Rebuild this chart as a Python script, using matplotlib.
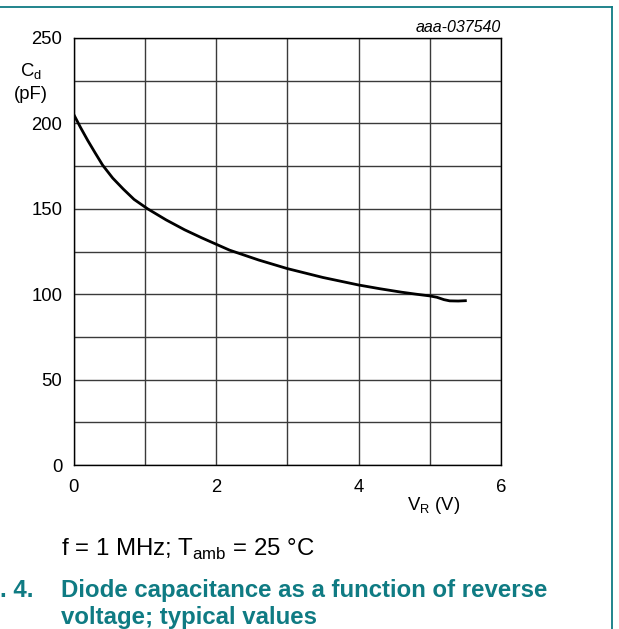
import matplotlib
matplotlib.use("Agg")
import matplotlib.pyplot as plt
from matplotlib.lines import Line2D

plt.rcParams["font.family"] = ["Liberation Sans", "DejaVu Sans"]
plt.rcParams["mathtext.fontset"] = "custom"
plt.rcParams["mathtext.rm"] = "Liberation Sans"

# reverse voltage (V) and diode capacitance (pF)
v_r = [0, 0.1, 0.2, 0.3, 0.41, 0.55, 0.7, 0.85, 1.04, 1.3, 1.56, 1.8, 2.0,
       2.19, 2.6, 3.0, 3.5, 4.0, 4.3, 4.6, 4.81, 5.0, 5.1, 5.2, 5.28, 5.4,
       5.5]
c_d = [205.5, 197.5, 190, 183, 175.5, 168, 161.5, 155.5, 150, 143.5, 137.7,
       133, 129.3, 125.8, 120, 115, 109.8, 105.4, 103.2, 101.2, 100, 99,
       98.2, 96.8, 96.1, 96.0, 96.2]

x_ticks = [0, 2, 4, 6]
y_ticks = [0, 50, 100, 150, 200, 250]
teal = "#0f7b83"
W, H = 619, 629

fig = plt.figure(figsize=(W / 100, H / 100), dpi=100)
ax = fig.add_axes([73.5 / W, 1 - 465 / H, 427.5 / W, 427 / H])

ax.plot(v_r, c_d, color="black", lw=2.0, solid_joinstyle="round")
ax.set_xlim(0, 6)
ax.set_ylim(0, 250)
ax.set_xticks(x_ticks)
ax.set_xticks(range(0, 7), minor=True)
ax.set_yticks(y_ticks)
ax.set_yticks(range(0, 251, 25), minor=True)
ax.grid(True, which="both", color="#3a3a3a", lw=1.0)
ax.tick_params(which="both", length=0, labelsize=13.3, colors="black")
ax.tick_params(axis="y", pad=8)
ax.tick_params(axis="x", pad=10)
for s in ax.spines.values():
    s.set_linewidth(1.0)
    s.set_color("black")

def px(x, y):
    return x / W, 1 - y / H

fig.text(*px(31, 76), r"C$_\mathregular{d}$", ha="center", va="baseline", fontsize=13.3)
fig.text(*px(31, 99), "(pF)", ha="center", va="baseline", fontsize=13.3)
fig.text(*px(434, 510), r"V$_\mathregular{R}$ (V)", ha="center", va="baseline", fontsize=13.3)
fig.text(*px(501, 32), "aaa-037540", ha="right", va="baseline",
         fontsize=11.5, style="italic")

fig.text(*px(61, 556), r"f = 1 MHz; T$_\mathregular{amb}$ = 25 °C",
         ha="left", va="baseline", fontsize=17.3)
fig.text(*px(0, 597), ". 4.", ha="left", va="baseline", fontsize=17.3,
         fontweight="bold", color=teal)
fig.text(*px(61, 597), "Diode capacitance as a function of reverse",
         ha="left", va="baseline", fontsize=17.3, fontweight="bold", color=teal)
fig.text(*px(61, 624), "voltage; typical values",
         ha="left", va="baseline", fontsize=17.3, fontweight="bold", color=teal)

# frame of the figure box (top and right edges visible)
fig.add_artist(Line2D([0, 612 / W], [1 - 6.5 / H] * 2, color=teal, lw=1.3,
                      transform=fig.transFigure))
fig.add_artist(Line2D([612 / W] * 2, [0, 1 - 6.5 / H], color=teal, lw=1.3,
                      transform=fig.transFigure))

fig.savefig("out.png", dpi=100)
plt.close(fig)
